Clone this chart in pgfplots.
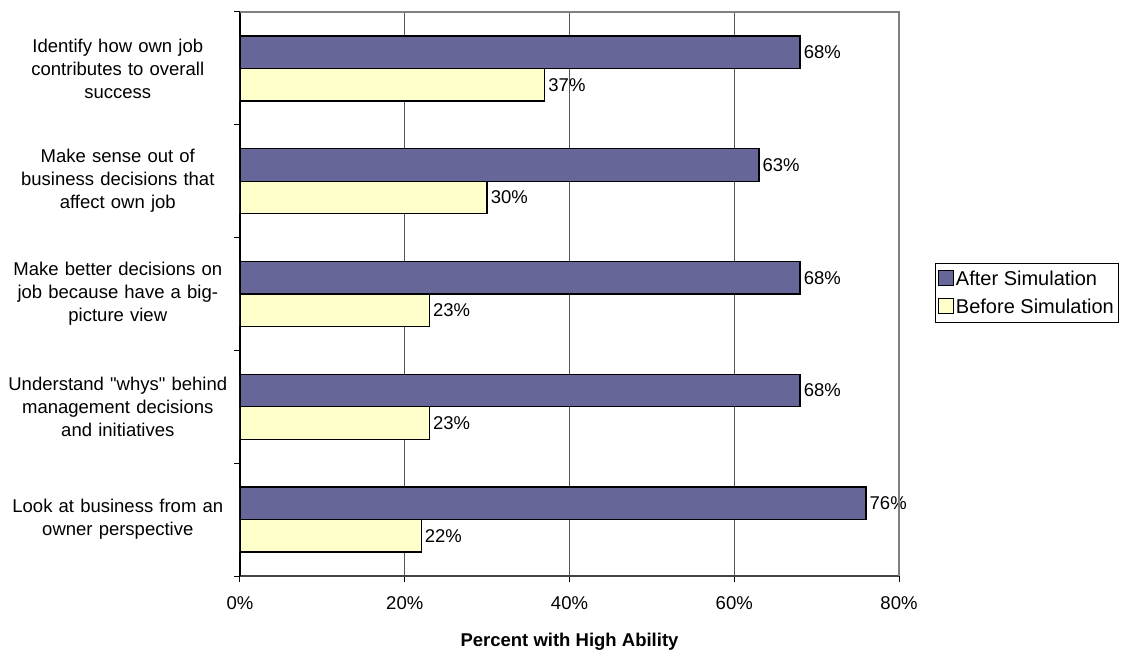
\documentclass[border=0pt]{standalone}
\usepackage{pgfplots}
\pgfplotsset{compat=1.18}
\usepackage{fontspec}
\setmainfont{Liberation Sans}[Ligatures=TeXOff]
\definecolor{after}{HTML}{666699}
\definecolor{before}{HTML}{FFFFCC}
\definecolor{gridc}{HTML}{555555}
\begin{document}
\begin{tikzpicture}[font=\fontsize{18.5}{23}\selectfont, x=1pt, y=1pt]
\path[use as bounding box] (-240pt,-80pt) rectangle (882pt,576pt);
\begin{axis}[
  at={(0pt,0pt)}, anchor=south west,
  scale only axis, width=659pt, height=564pt,
  xbar, bar width=32.5pt,
  xmin=0, xmax=80, ymin=-0.5, ymax=4.5,
  xtick={0,20,40,60,80},
  xticklabel={\pgfmathprintnumber{\tick}\%},
  /pgf/number format/assume math mode=true,
  ytick={-0.5,0.5,1.5,2.5,3.5,4.5},
  yticklabels={},
  extra y ticks={0,1,2,3,4},
  extra y tick labels={{Look at business from an\\owner perspective},
               {Understand "whys" behind\\management decisions\\and initiatives},
               {Make better decisions on\\job because have a big-\\picture view},
               {Make sense out of\\business decisions that\\affect own job},
               {Identify how own job\\contributes to overall\\success}},
  extra y tick style={major tick length=0pt, tick style={draw=none},
    yticklabel style={text width=222pt, align=center, inner sep=0pt, xshift=-11pt}},
  major tick length=6pt,
  tick align=outside,
  tick style={black, line width=1pt},
  xticklabel style={inner sep=0pt, yshift=-14pt},
  axis x line*=bottom, axis y line*=left,
  x axis line style={-, line width=1.3pt, draw=gridc!80!black},
  y axis line style={-, line width=1.3pt, draw=black},
  xmajorgrids, ymajorgrids=false, grid style={gridc, line width=1pt},
  xlabel={\bfseries Percent with High Ability},
  xlabel style={yshift=-20pt},
  nodes near coords={\pgfmathprintnumber{\pgfplotspointmeta}\%},
  nodes near coords style={anchor=west, inner sep=0pt, xshift=3pt},
  legend style={at={(1.0546,0.555)}, anchor=north west, draw=black, line width=1pt,
    inner xsep=3pt, inner ysep=6pt, row sep=9pt, font=\fontsize{20}{24}\selectfont,
    nodes={inner sep=1.5pt}},
  legend cell align=left,
  legend image code/.code={\draw[#1, line width=1pt] (0pt,-7pt) rectangle (15pt,8pt);},
  after end axis/.code={
    \draw[gray, line width=1.5pt] (rel axis cs:0,1) -- (rel axis cs:1,1) -- (rel axis cs:1,0);
  },
]
\addplot[fill=after, draw=black, line width=1.3pt, bar shift=16.25pt] coordinates {(76,0) (68,1) (68,2) (63,3) (68,4)};
\addplot[fill=before, draw=black, line width=1.3pt, bar shift=-16.25pt] coordinates {(22,0) (23,1) (23,2) (30,3) (37,4)};
\legend{After Simulation, Before Simulation}
\end{axis}
\end{tikzpicture}
\end{document}
